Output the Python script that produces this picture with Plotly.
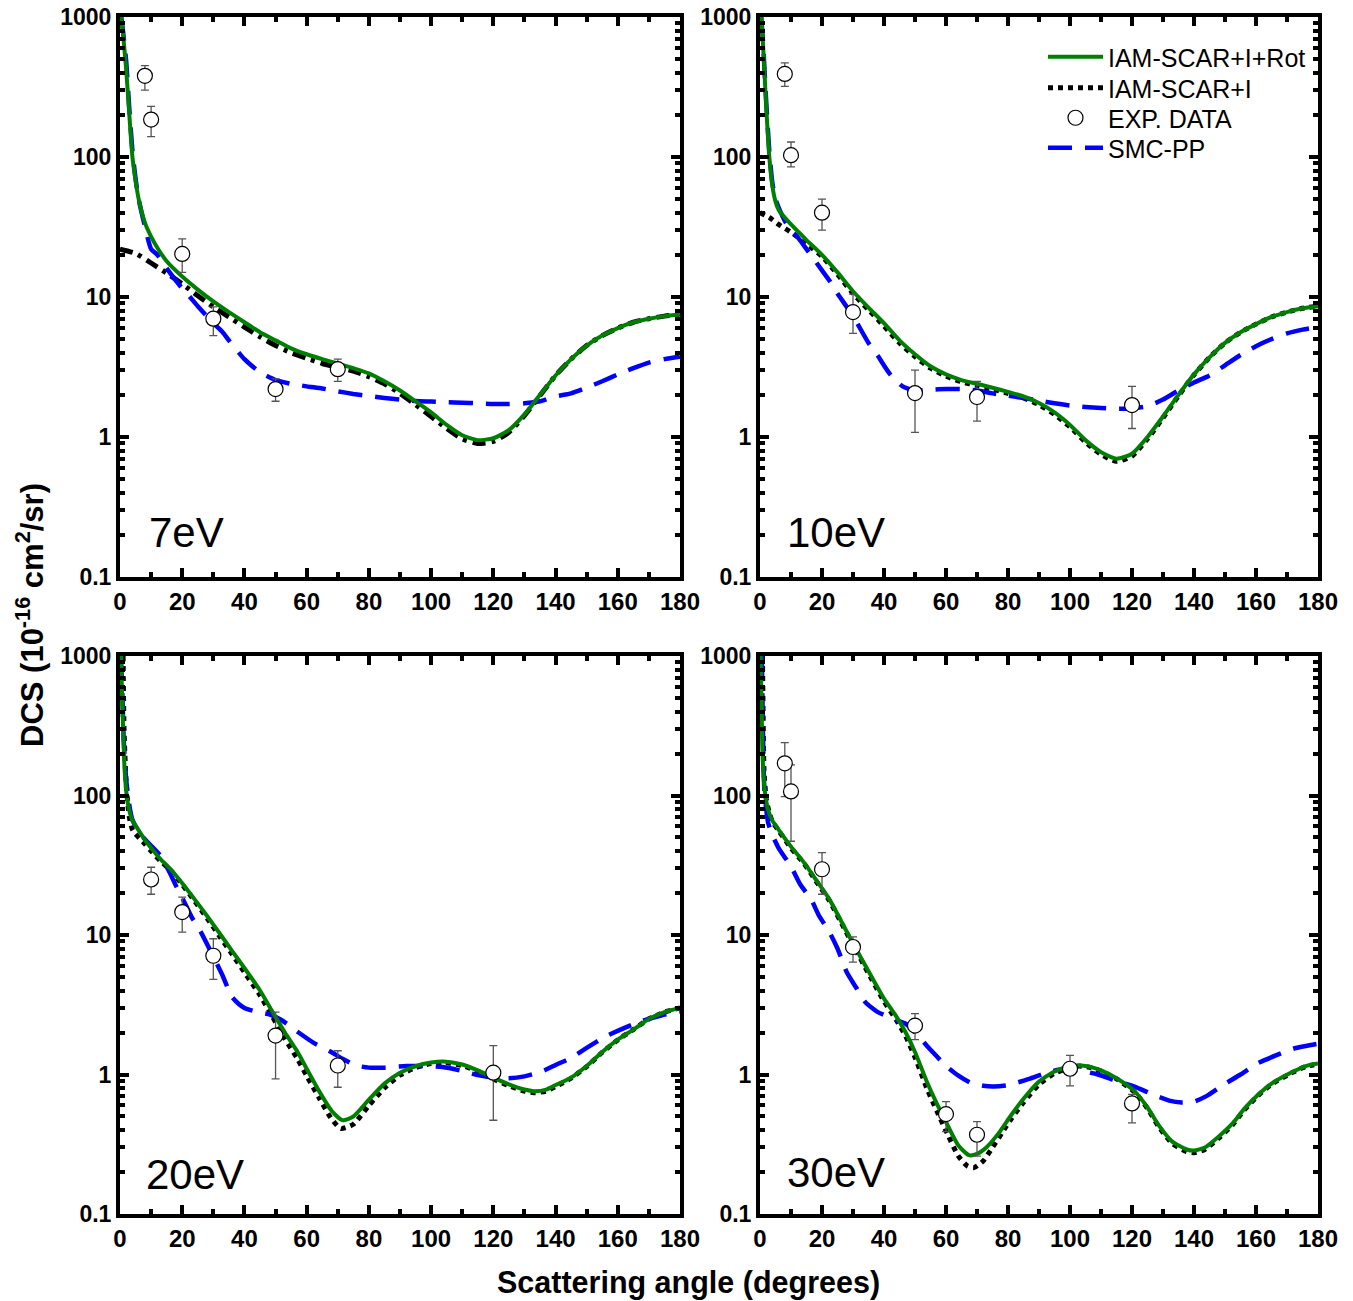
import plotly.graph_objects as go

W, H = 1353, 1301
FONT = "Liberation Sans, Arial, sans-serif"

# ---------------- axis ticks ----------------
X_TICKS = [0, 20, 40, 60, 80, 100, 120, 140, 160, 180]
X_MINOR = [10, 30, 50, 70, 90, 110, 130, 150, 170]
Y_TICKS = [0.1, 1, 10, 100, 1000]
Y_TICK_TEXT = ["0.1", "1", "10", "100", "1000"]
Y_MINOR = [m * d for d in (0.1, 1, 10, 100) for m in range(2, 10)]

# ---------------- 7 eV ----------------
e7_rot_x = [0.4, 1, 1.5, 2, 3, 4, 5, 6, 8, 10, 12, 15, 20, 25, 30, 35, 40, 45, 50, 55, 60, 65, 70, 75, 80,
            85, 90, 95, 100, 105, 110, 115, 120, 125, 130, 135, 140, 145, 150, 155, 160, 165, 170, 175, 180]
e7_rot_y = [1000, 750, 560, 420, 200, 100, 68, 50, 34, 27, 22.5, 18, 14, 11.3, 9.3, 7.8, 6.6, 5.6, 4.9, 4.3,
            3.9, 3.6, 3.35, 3.1, 2.85, 2.5, 2.15, 1.8, 1.5, 1.22, 1.03, 0.95, 0.98, 1.12, 1.45, 2.0, 2.75, 3.6,
            4.5, 5.3, 6.0, 6.6, 7.0, 7.3, 7.5]
e7_iam_x = [0, 5, 10, 15, 20, 25, 30, 35, 40, 45, 50, 55, 60, 65, 70, 75, 80, 85, 90, 95, 100, 105, 110, 115,
            120, 125, 130, 135, 140, 145, 150, 155, 160, 165, 170, 175, 180]
e7_iam_y = [22, 20.5, 17.5, 14.8, 12.4, 10.2, 8.5, 7.2, 6.1, 5.2, 4.5, 4.0, 3.65, 3.35, 3.15, 2.95, 2.7, 2.4,
            2.05, 1.7, 1.4, 1.15, 0.97, 0.9, 0.93, 1.08, 1.42, 1.98, 2.75, 3.6, 4.5, 5.3, 6.0, 6.6, 7.0, 7.3, 7.5]
e7_smc_x = [0.4, 1, 2, 3, 4, 5, 6, 8, 10, 12, 15, 20, 22, 25, 30, 33, 35, 40, 45, 50, 55, 60, 65, 70, 75, 80,
            85, 90, 95, 100, 105, 110, 115, 120, 125, 130, 135, 140, 145, 150, 155, 160, 165, 170, 175, 180]
e7_smc_y = [1000, 780, 480, 220, 110, 70, 50, 32, 22, 20, 16, 11.5, 10.3, 8.6, 6.5, 5.6, 4.9, 3.6, 2.9, 2.55,
            2.4, 2.3, 2.22, 2.12, 2.03, 1.96, 1.9, 1.85, 1.81, 1.79, 1.77, 1.76, 1.74, 1.72, 1.72, 1.74, 1.8,
            1.95, 2.05, 2.25, 2.5, 2.8, 3.1, 3.4, 3.6, 3.75]
e7_exp_x = [8, 10, 20, 30, 50, 70]
e7_exp_y = [380, 185, 20.3, 7.0, 2.2, 3.05]
e7_exp_hi = [450, 230, 26, 8.5, 2.6, 3.6]
e7_exp_lo = [300, 140, 15, 5.3, 1.8, 2.5]

# ---------------- 10 eV ----------------
e10_rot_x = [0.4, 1, 2, 3, 4, 5, 6, 7.5, 10, 12.5, 15, 20, 25, 30, 35, 40, 45, 50, 55, 60, 65, 70, 75, 80, 85,
             90, 95, 100, 105, 110, 115, 120, 125, 130, 135, 140, 145, 150, 155, 160, 165, 170, 175, 180]
e10_rot_y = [1000, 620, 230, 100, 62, 48, 42, 38, 33, 29, 25.5, 20, 15, 11, 8.4, 6.5, 4.9, 3.9, 3.2, 2.8, 2.55,
             2.4, 2.25, 2.1, 1.95, 1.75, 1.5, 1.22, 0.95, 0.78, 0.7, 0.76, 1.0, 1.4, 2.0, 2.8, 3.7, 4.7, 5.6,
             6.4, 7.2, 7.8, 8.3, 8.6]
e10_iam_x = [0, 3, 6, 10, 15, 20, 25, 30, 35, 40, 45, 50, 55, 60, 65, 70, 75, 80, 85, 90, 95, 100, 105, 110,
             115, 120, 125, 130, 135, 140, 145, 150, 155, 160, 165, 170, 175, 180]
e10_iam_y = [40, 37, 33, 29, 24, 19.5, 14.5, 10.6, 8.1, 6.2, 4.7, 3.75, 3.1, 2.72, 2.48, 2.33, 2.2, 2.05, 1.9,
             1.7, 1.45, 1.18, 0.92, 0.75, 0.67, 0.73, 0.97, 1.37, 1.97, 2.78, 3.7, 4.7, 5.6, 6.4, 7.2, 7.8,
             8.3, 8.6]
e10_smc_x = [0.4, 1, 2, 3, 4, 5, 6.5, 8, 10, 12, 15, 20, 22.5, 25, 30, 35, 38, 42, 46, 50, 55, 60, 65, 70, 75,
             80, 85, 90, 95, 100, 105, 110, 115, 120, 125, 130, 135, 140, 145, 150, 155, 160, 165, 170, 175, 180]
e10_smc_y = [1000, 650, 250, 110, 65, 50, 41, 35, 30, 27, 22, 15.5, 13, 10.6, 7.3, 4.7, 3.8, 2.8, 2.3, 2.15,
             2.18, 2.2, 2.2, 2.15, 2.05, 1.97, 1.9, 1.82, 1.74, 1.68, 1.64, 1.61, 1.59, 1.6, 1.66, 1.85, 2.15,
             2.45, 2.75, 3.25, 3.85, 4.45, 5.0, 5.5, 5.85, 6.1]
e10_exp_x = [8, 10, 20, 30, 50, 70, 120]
e10_exp_y = [392, 103, 40, 7.8, 2.06, 1.93, 1.69]
e10_exp_hi = [470, 128, 50, 10.5, 3.0, 2.5, 2.3]
e10_exp_lo = [320, 85, 30, 5.5, 1.08, 1.3, 1.15]

# ---------------- 20 eV ----------------
e20_rot_x = [0.3, 0.6, 1, 1.5, 2.3, 3, 4, 5.2, 8, 10, 13, 16.3, 20, 24, 28, 32, 36, 40, 45, 49, 53, 57, 60, 64,
             68, 71.5, 75, 80, 85, 90, 95, 100, 104, 110, 115, 120, 125, 130, 133, 137, 140, 145, 150, 155, 160,
             165, 170, 175, 180]
e20_rot_y = [1000, 600, 300, 150, 94, 78, 66, 60, 48, 42, 35, 29.6, 23.5, 18, 13.7, 10.3, 7.7, 5.8, 4.0, 2.82,
             2.0, 1.46, 1.1, 0.76, 0.55, 0.47, 0.5, 0.66, 0.86, 1.03, 1.15, 1.22, 1.24, 1.18, 1.07, 0.95, 0.85,
             0.78, 0.76, 0.78, 0.84, 0.95, 1.15, 1.45, 1.78, 2.1, 2.5, 2.8, 3.0]
e20_iam_x = [1.0, 1.3, 2, 3, 4, 5, 8, 10, 13, 16.3, 20, 24, 28, 32, 36, 40, 45, 49, 53, 57, 60, 64, 68, 71, 75,
             80, 85, 90, 95, 100, 104, 110, 115, 120, 125, 130, 133, 137, 140, 145, 150, 155, 160, 165, 170,
             175, 180]
e20_iam_y = [1000, 300, 120, 70, 57, 53, 45, 40, 34, 29, 23, 17.5, 13.2, 9.8, 7.3, 5.4, 3.7, 2.6, 1.8, 1.3,
             0.98, 0.68, 0.48, 0.41, 0.44, 0.6, 0.8, 0.99, 1.12, 1.2, 1.22, 1.16, 1.05, 0.93, 0.83, 0.76, 0.74,
             0.76, 0.82, 0.94, 1.14, 1.44, 1.77, 2.1, 2.5, 2.8, 3.0]
e20_smc_x = [0.3, 0.8, 1.2, 2, 3, 4, 6, 9, 13, 16, 18, 20, 23, 26, 30, 33, 36, 40, 45, 48, 52, 57, 62, 67.6, 72,
             76, 80, 85, 92, 98, 103.7, 110, 115, 120, 125, 130, 136, 140, 144.5, 150, 156, 162, 168, 174, 180]
e20_smc_y = [1000, 500, 250, 130, 85, 67, 55, 46, 37, 28, 22.5, 18.5, 13.5, 10.5, 7.0, 5.1, 3.6, 3.0, 2.78,
             2.7, 2.45, 2.03, 1.7, 1.46, 1.28, 1.16, 1.12, 1.12, 1.15, 1.15, 1.13, 1.06, 0.99, 0.95, 0.94, 0.97,
             1.06, 1.17, 1.3, 1.55, 1.87, 2.15, 2.43, 2.65, 2.82]
e20_exp_x = [10, 20, 30, 50, 70, 120]
e20_exp_y = [25, 14.6, 7.1, 1.9, 1.16, 1.03]
e20_exp_hi = [30.6, 18.7, 9.4, 2.8, 1.48, 1.61]
e20_exp_lo = [19.6, 10.5, 4.8, 0.93, 0.81, 0.47]

# ---------------- 30 eV ----------------
e30_rot_x = [0.2, 0.5, 0.8, 1.5, 2.6, 4, 6, 10, 14.2, 18, 22.4, 26, 30.5, 35, 40, 44, 47, 50, 53.8, 57, 60.6,
             64, 67.4, 70, 73, 77, 81, 85, 90, 95, 100, 103, 106, 110, 115, 120.8, 125, 128.7, 133, 137.7, 140,
             143.5, 148, 152.6, 156, 160.5, 165, 172, 176, 180]
e30_rot_y = [1000, 480, 200, 110, 79, 66, 57, 43, 33, 25, 18, 12.8, 8.3, 5.5, 3.5, 2.6, 2.0, 1.45, 0.89, 0.62,
             0.43, 0.31, 0.264, 0.27, 0.3, 0.38, 0.51, 0.67, 0.89, 1.05, 1.14, 1.16, 1.14, 1.07, 0.94, 0.76,
             0.58, 0.43, 0.33, 0.29, 0.285, 0.3, 0.36, 0.45, 0.56, 0.71, 0.86, 1.05, 1.15, 1.2]
e30_iam_x = [0.8, 1.0, 1.3, 2, 3, 4, 6, 10, 14.2, 18, 22.4, 26, 30.5, 35, 40, 44, 47, 50, 53.8, 57, 60.6, 64,
             67, 69, 72, 75, 78, 81, 85, 90, 95, 100, 103, 106, 110, 115, 120.8, 125, 128.7, 133, 137.7, 140,
             143.5, 148, 152.6, 156, 160.5, 165, 172, 176, 180]
e30_iam_y = [1000, 400, 150, 95, 75, 65, 56, 42, 32.5, 24.5, 17.6, 12.5, 8.1, 5.3, 3.35, 2.45, 1.88, 1.33, 0.8,
             0.55, 0.37, 0.26, 0.22, 0.215, 0.24, 0.3, 0.38, 0.48, 0.63, 0.85, 1.02, 1.12, 1.15, 1.13, 1.06,
             0.93, 0.75, 0.57, 0.42, 0.32, 0.28, 0.275, 0.29, 0.35, 0.44, 0.55, 0.7, 0.85, 1.04, 1.14, 1.19]
e30_smc_x = [0.6, 1.0, 1.4, 2, 2.6, 4, 6, 7.8, 10, 13, 16.5, 19, 22.4, 25, 28, 31, 34, 38, 41.3, 44, 47, 50,
             53.8, 57, 60, 64, 68, 72, 75.4, 80, 86.8, 92, 98, 103, 109, 115, 120.8, 126, 132, 136, 140, 144,
             149, 155, 160.5, 166, 172, 176, 180]
e30_smc_y = [1000, 250, 110, 80, 64, 52, 42, 36.6, 31, 23, 18, 13.8, 10.5, 8.0, 5.4, 4.2, 3.3, 2.8, 2.6, 2.45,
             2.31, 2.0, 1.61, 1.35, 1.15, 0.98, 0.87, 0.83, 0.82, 0.84, 0.93, 1.02, 1.1, 1.07, 1.0, 0.9, 0.82,
             0.73, 0.65, 0.63, 0.64, 0.7, 0.83, 1.0, 1.2, 1.36, 1.53, 1.6, 1.66]
e30_exp_x = [8, 10, 20, 30, 50, 60, 70, 100, 120]
e30_exp_y = [170, 107, 29.6, 8.2, 2.24, 0.52, 0.37, 1.1, 0.62]
e30_exp_hi = [239, 166, 39, 9.7, 2.73, 0.64, 0.46, 1.37, 0.72]
e30_exp_lo = [98, 47, 19.6, 6.4, 1.78, 0.39, 0.26, 0.83, 0.45]

PANEL_LABELS = ["7eV", "10eV", "20eV", "30eV"]
LEGEND_NAMES = ["IAM-SCAR+I+Rot", "IAM-SCAR+I", "EXP. DATA", "SMC-PP"]

GREEN = "#008000"
BLUE = "#0000ff"

panels = [
    dict(rot=(e7_rot_x, e7_rot_y), iam=(e7_iam_x, e7_iam_y), smc=(e7_smc_x, e7_smc_y),
         exp=(e7_exp_x, e7_exp_y, e7_exp_hi, e7_exp_lo), xa="x", ya="y", iamdash="13px,6px,4px,6px"),
    dict(rot=(e10_rot_x, e10_rot_y), iam=(e10_iam_x, e10_iam_y), smc=(e10_smc_x, e10_smc_y),
         exp=(e10_exp_x, e10_exp_y, e10_exp_hi, e10_exp_lo), xa="x2", ya="y2", iamdash="5px,5px"),
    dict(rot=(e20_rot_x, e20_rot_y), iam=(e20_iam_x, e20_iam_y), smc=(e20_smc_x, e20_smc_y),
         exp=(e20_exp_x, e20_exp_y, e20_exp_hi, e20_exp_lo), xa="x3", ya="y3", iamdash="5px,5px"),
    dict(rot=(e30_rot_x, e30_rot_y), iam=(e30_iam_x, e30_iam_y), smc=(e30_smc_x, e30_smc_y),
         exp=(e30_exp_x, e30_exp_y, e30_exp_hi, e30_exp_lo), xa="x4", ya="y4", iamdash="5px,5px"),
]

fig = go.Figure()
for i, p in enumerate(panels):
    leg = (i == 1)
    fig.add_trace(go.Scatter(x=p["iam"][0], y=p["iam"][1], mode="lines", name=LEGEND_NAMES[1],
                             line=dict(color="black", width=5, dash=p["iamdash"], shape="spline", smoothing=0.6),
                             xaxis=p["xa"], yaxis=p["ya"], showlegend=leg, legend="legend2"))
    fig.add_trace(go.Scatter(x=p["smc"][0], y=p["smc"][1], mode="lines", name=LEGEND_NAMES[3],
                             line=dict(color=BLUE, width=4.5, dash="24px,13px", shape="spline", smoothing=0.6),
                             xaxis=p["xa"], yaxis=p["ya"], showlegend=leg, legend="legend4"))
    fig.add_trace(go.Scatter(x=p["rot"][0], y=p["rot"][1], mode="lines", name=LEGEND_NAMES[0],
                             line=dict(color=GREEN, width=4, shape="spline", smoothing=0.6),
                             xaxis=p["xa"], yaxis=p["ya"], showlegend=leg, legend="legend"))
    ex, ey, ehi, elo = p["exp"]
    fig.add_trace(go.Scatter(x=ex, y=ey, mode="markers", name=LEGEND_NAMES[2],
                             marker=dict(symbol="circle", size=15, color="white",
                                         line=dict(color="black", width=1.2)),
                             error_y=dict(type="data", symmetric=False,
                                          array=[h - v for h, v in zip(ehi, ey)],
                                          arrayminus=[v - l for v, l in zip(ey, elo)],
                                          color="#555555", thickness=1.3, width=4),
                             xaxis=p["xa"], yaxis=p["ya"], showlegend=leg, legend="legend3"))

xtickfont = dict(family=FONT, size=24, color="black", weight="bold")
ytickfont = dict(family=FONT, size=23, color="black", weight="bold")


def xcfg(domain, anchor):
    return dict(domain=domain, anchor=anchor, range=[0, 180], tickmode="array", tickvals=X_TICKS,
                ticktext=[str(v) for v in X_TICKS], ticks="inside", ticklen=9, tickwidth=4, tickcolor="black",
                showline=True, linewidth=4, linecolor="black", mirror="ticks", showgrid=False, zeroline=False,
                tickfont=xtickfont, automargin=False,
                minor=dict(tickvals=X_MINOR, ticks="inside", ticklen=5, tickwidth=4, tickcolor="black",
                           showgrid=False))


def ycfg(domain, anchor):
    return dict(domain=domain, anchor=anchor, type="log", range=[-1, 3], tickmode="array", tickvals=Y_TICKS,
                ticktext=Y_TICK_TEXT, ticks="inside", ticklen=9, tickwidth=4, tickcolor="black",
                showline=True, linewidth=4, linecolor="black", mirror="ticks", showgrid=False, zeroline=False,
                tickfont=ytickfont, automargin=False,
                minor=dict(tickvals=Y_MINOR, ticks="inside", ticklen=5, tickwidth=4, tickcolor="black",
                           showgrid=False))


XL = [120 / W, 680 / W]
XR = [760 / W, 1318 / W]
YT = [1 - 577 / H, 1 - 17 / H]
YB = [1 - 1214 / H, 1 - 656 / H]

annotations = []
label_pos = [(0.048, 0.079), (0.045, 0.079), (0.043, 0.07), (0.045, 0.075)]
refs = [("x", "y"), ("x2", "y2"), ("x3", "y3"), ("x4", "y4")]
for lab, (lx, ly), (xr, yr) in zip(PANEL_LABELS, label_pos, refs):
    annotations.append(dict(text=lab, x=lx, y=ly, xref=xr + " domain", yref=yr + " domain",
                            xanchor="left", yanchor="middle", showarrow=False,
                            font=dict(family=FONT, size=42, color="black")))
annotations.append(dict(text="DCS (10<sup>-16</sup> cm<sup>2</sup>/sr)", x=30 / W, y=1 - 615 / H,
                        xref="paper", yref="paper", textangle=-90, showarrow=False,
                        xanchor="center", yanchor="middle",
                        font=dict(family=FONT, size=31, color="black", weight="bold")))
annotations.append(dict(text="Scattering angle (degrees)", x=688 / W, y=1 - 1282 / H,
                        xref="paper", yref="paper", showarrow=False, xanchor="center", yanchor="middle",
                        font=dict(family=FONT, size=30.5, color="black", weight="bold")))


def legcfg(ypix):
    return dict(x=1043 / W, y=1 - ypix / H, xanchor="left", yanchor="middle", bgcolor="rgba(0,0,0,0)",
                font=dict(family=FONT, size=25, color="black"), itemwidth=55)


fig.update_layout(
    width=W, height=H,
    margin=dict(l=0, r=0, t=0, b=0, pad=0, autoexpand=False),
    paper_bgcolor="white", plot_bgcolor="white",
    xaxis=xcfg(XL, "y"), yaxis=ycfg(YT, "x"),
    xaxis2=xcfg(XR, "y2"), yaxis2=ycfg(YT, "x2"),
    xaxis3=xcfg(XL, "y3"), yaxis3=ycfg(YB, "x3"),
    xaxis4=xcfg(XR, "y4"), yaxis4=ycfg(YB, "x4"),
    annotations=annotations,
    showlegend=True,
    legend=legcfg(57), legend2=legcfg(88), legend3=legcfg(118), legend4=legcfg(148),
)

fig.write_html("out.html", config={"displayModeBar": False},
               post_script="document.body.style.margin='0';document.body.style.overflow='hidden';")
